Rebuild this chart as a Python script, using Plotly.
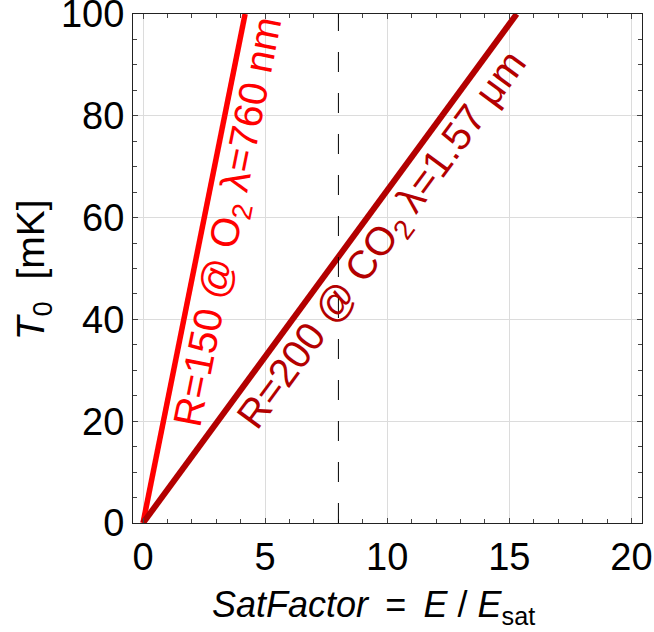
import plotly.graph_objects as go

# Data
T0_mK = [0, 100]
sat_o2 = [0, 4.18]
sat_co2 = [0, 15.3]
dashed_x = 8
label_o2 = "R=150 @ O<sub>2</sub> λ=760 nm"
label_co2 = "R=200 @ CO<sub>2</sub> λ=1.57 μm"
x_ticks = [0, 5, 10, 15, 20]
y_ticks = [0, 20, 40, 60, 80, 100]

FONT = "Liberation Sans, Arial, sans-serif"
RED = "#FF0000"
DARK = "#B30000"

fig = go.Figure()
fig.add_trace(go.Scatter(x=sat_o2, y=T0_mK, mode="lines",
                         line=dict(color=RED, width=5.5), showlegend=False))
fig.add_trace(go.Scatter(x=sat_co2, y=T0_mK, mode="lines",
                         line=dict(color=DARK, width=6), showlegend=False))

fig.add_shape(type="line", x0=dashed_x, x1=dashed_x, y0=0, y1=1, yref="paper",
              line=dict(color="black", width=1, dash="20px,21px"))

fig.add_annotation(x=3.57, y=59.1, text=label_o2, showarrow=False,
                   textangle=-78.7, font=dict(family=FONT, size=40, color=RED))
fig.add_annotation(x=9.84, y=55.4, text=label_co2, showarrow=False,
                   textangle=-53.7, font=dict(family=FONT, size=40, color=DARK))

fig.add_annotation(xref="paper", yref="paper", x=0.472, y=-0.165,
                   text="<i>SatFactor</i>&#8201; = &#8201;<i>E</i> / <i>E</i><sub>sat</sub>",
                   showarrow=False, xanchor="center", yanchor="middle",
                   font=dict(family=FONT, size=36, color="black"))
fig.add_annotation(xref="paper", yref="paper", x=-0.196, y=0.497,
                   text="<i>T</i><sub>0</sub>&nbsp;&nbsp;[mK]",
                   showarrow=False, textangle=-90, xanchor="center", yanchor="middle",
                   font=dict(family=FONT, size=39, color="black"))

axis_common = dict(showline=True, linecolor="#222", linewidth=1, mirror="allticks",
                   ticks="inside", ticklen=5, tickcolor="#444",
                   showgrid=True, gridcolor="#DCDCDC", gridwidth=1,
                   zeroline=False, automargin=False, ticklabeloverflow="allow",
                   tickfont=dict(family=FONT, size=38, color="black"))

fig.update_xaxes(range=[-0.41, 20.43], tickvals=x_ticks, **axis_common,
                 minor=dict(dtick=1, tick0=0, ticks="inside", ticklen=4,
                            tickcolor="#444", showgrid=False))
fig.update_yaxes(range=[0, 100], tickvals=y_ticks, **axis_common,
                 minor=dict(dtick=5, tick0=0, ticks="inside", ticklen=4,
                            tickcolor="#444", showgrid=False))

fig.update_layout(width=654, height=632, plot_bgcolor="white", paper_bgcolor="white",
                  margin=dict(l=133, r=12, t=14, b=109))

fig.write_html("out.html", config={"displayModeBar": False},
               post_script="document.body.style.margin='0';document.body.style.overflow='hidden';")
